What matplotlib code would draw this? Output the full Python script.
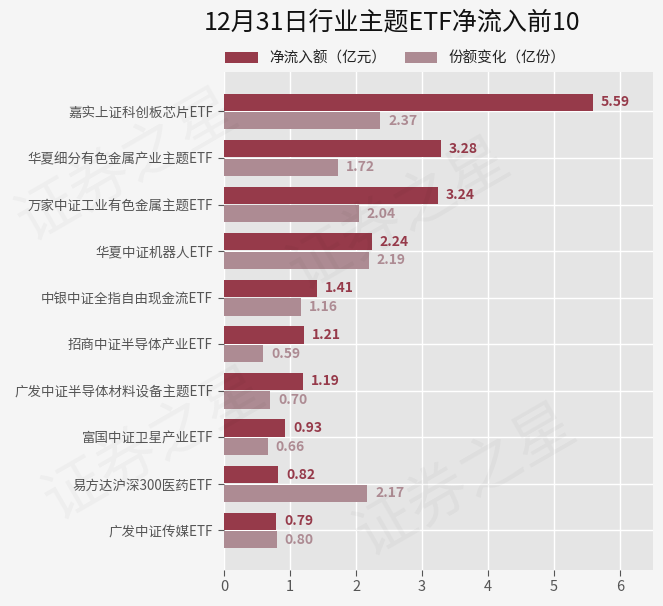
import numpy as np
import matplotlib
matplotlib.use("Agg")
import matplotlib.pyplot as plt

plt.rcParams['font.family'] = ['Noto Sans CJK SC', 'DejaVu Sans']

funds = ["嘉实上证科创板芯片ETF", "华夏细分有色金属产业主题ETF", "万家中证工业有色金属主题ETF",
         "华夏中证机器人ETF", "中银中证全指自由现金流ETF", "招商中证半导体产业ETF",
         "广发中证半导体材料设备主题ETF", "富国中证卫星产业ETF", "易方达沪深300医药ETF",
         "广发中证传媒ETF"]
net_inflow = [5.59, 3.28, 3.24, 2.24, 1.41, 1.21, 1.19, 0.93, 0.82, 0.79]
share_change = [2.37, 1.72, 2.04, 2.19, 1.16, 0.59, 0.70, 0.66, 2.17, 0.80]

dark = "#963a4a"
light = "#ad8b93"

fig = plt.figure(figsize=(6.63, 6.06), dpi=100, facecolor="#f5f5f5")

# faint watermark
for x, y in [(0.01, 0.58), (0.42, 0.50), (0.05, 0.12), (0.52, 0.06)]:
    fig.text(x, y, "证券之星", fontsize=44, color="#000000", alpha=0.03, rotation=30,
             ha="left", va="bottom", zorder=0)

ax = fig.add_axes([0.338, 0.0594, 0.647, 0.822])
ax.set_facecolor("#e5e5e5")

y = np.arange(len(funds))
h = 0.37
ax.barh(y - 0.2, net_inflow, height=h, color=dark, label="净流入额（亿元）", zorder=3)
ax.barh(y + 0.2, share_change, height=h, color=light, label="份额变化（亿份）", zorder=3)

for i in range(len(funds)):
    ax.text(net_inflow[i] + 0.12, y[i] - 0.2, f"{net_inflow[i]:.2f}", color=dark,
            fontsize=10, fontweight="bold", va="center", ha="left", zorder=4)
    ax.text(share_change[i] + 0.12, y[i] + 0.2, f"{share_change[i]:.2f}", color=light,
            fontsize=10, fontweight="bold", va="center", ha="left", zorder=4)

ax.set_xlim(0, 6.5)
ax.set_ylim(len(funds) - 0.15, -0.85)
ax.set_yticks(y)
ax.set_yticklabels(funds)
ax.set_xticks(range(7))
ax.grid(True, color="white", linewidth=1, zorder=1)
ax.set_axisbelow(True)
for sp in ax.spines.values():
    sp.set_visible(False)
ax.tick_params(axis="both", colors="#555555", labelsize=9.7, length=4, width=0.8)
ax.tick_params(axis="x", labelsize=10.5)
ax.tick_params(axis="y", pad=4)

fig.text(0.592, 0.963, "12月31日行业主题ETF净流入前10", fontsize=18, ha="center",
         va="center", color="#111111")
ax.legend(loc="lower center", bbox_to_anchor=(0.40, 1.0), ncol=2, frameon=False,
          fontsize=10.5, handlelength=2.2, handleheight=0.8, columnspacing=1.3,
          labelcolor="#222222", borderaxespad=0.05)

fig.savefig("out.png", dpi=100, facecolor=fig.get_facecolor())
